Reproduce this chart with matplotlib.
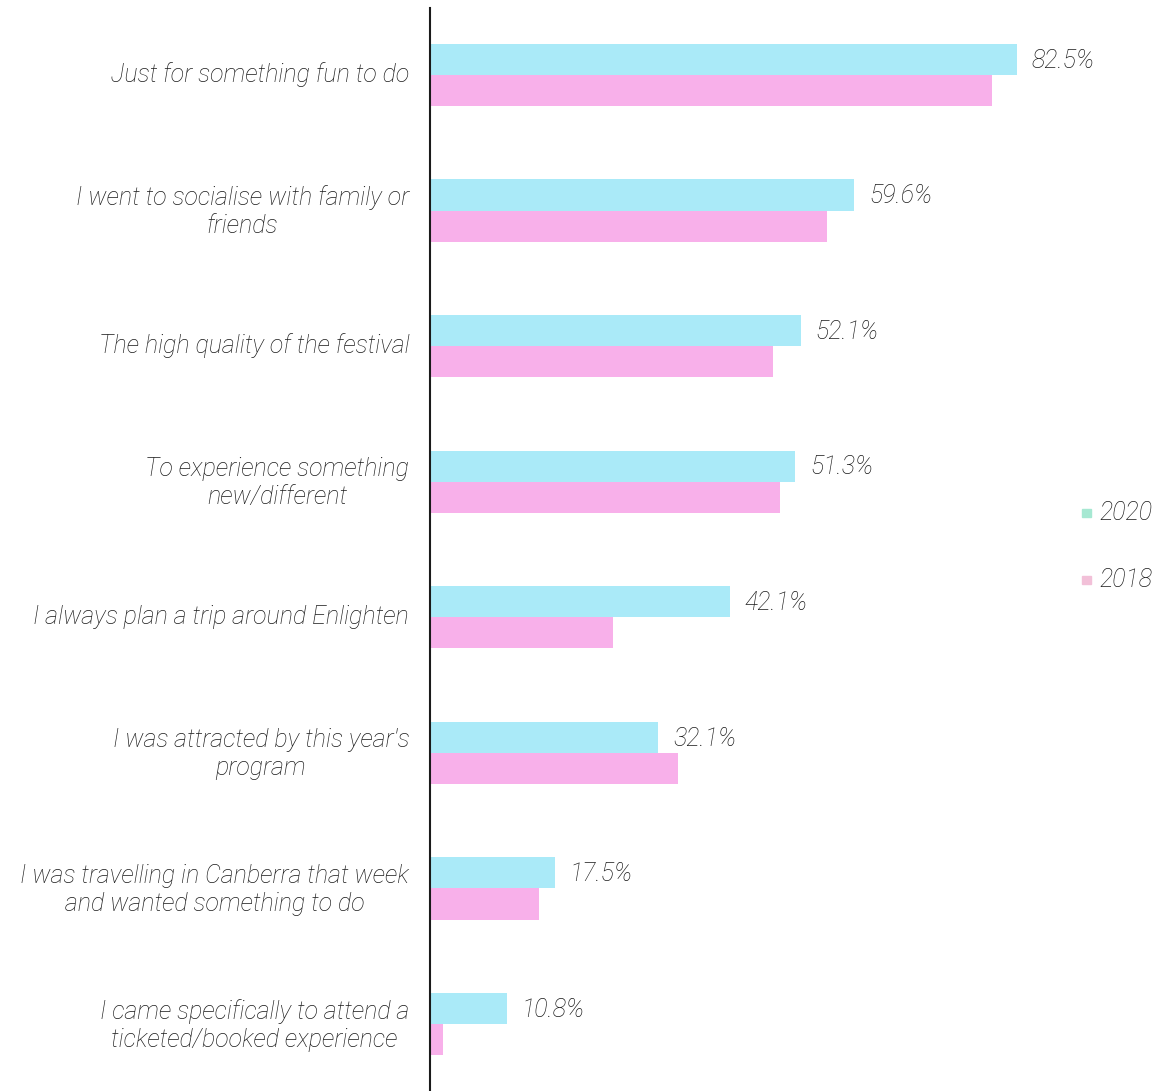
import matplotlib.pyplot as plt
import matplotlib.transforms as mtransforms
import numpy as np

categories = [
    "Just for something fun to do",
    "I went to socialise with family or\nfriends",
    "The high quality of the festival",
    "To experience something\nnew/different",
    "I always plan a trip around Enlighten",
    "I was attracted by this year's\nprogram",
    "I was travelling in Canberra that week\nand wanted something to do",
    "I came specifically to attend a\nticketed/booked experience",
]
values_2020 = [82.5, 59.6, 52.1, 51.3, 42.1, 32.1, 17.5, 10.8]
values_2018 = [79.0, 55.8, 48.2, 49.2, 25.7, 34.9, 15.3, 1.8]
series_names = ["2020", "2018"]

color_2020 = "#aaeaf8"
color_2018 = "#f8b0ea"
legend_2020 = "#a6e8d2"
legend_2018 = "#f2c0d8"
text_color = "#1a1a1a"
fs = 18

plt.rcParams['font.family'] = ['Roboto', 'DejaVu Sans']

fig = plt.figure(figsize=(11.56, 10.91), dpi=100)
W, H = 1156, 1091
ax = fig.add_axes([430 / W, 0 / H, (1100 - 430) / W, (1091 - 8) / H])

n = len(categories)
y = np.arange(n)
bar_h = 0.23

ax.barh(y - bar_h / 2, values_2020, height=bar_h, color=color_2020, label=series_names[0])
ax.barh(y + bar_h / 2, values_2018, height=bar_h, color=color_2018, label=series_names[1])

ax.set_xlim(0, (1100 - 430) / 7.115)
ax.set_ylim(n - 1 + 0.494, -0.494)

for yi, v in zip(y, values_2020):
    ax.text(v + 2.1, yi - bar_h / 2 + 0.01, f"{v}%", ha='left', va='center',
            fontsize=fs, style='italic', fontweight='light', color=text_color)

ax.set_yticks(y)
ax.set_yticklabels(categories, fontsize=fs, style='italic', fontweight='light',
                   color=text_color, ha='right', multialignment='center')
ax.tick_params(axis='y', length=0, pad=15)
ax.set_xticks([])

# nudge category labels up slightly
lift = mtransforms.ScaledTranslation(0, 3 / 100, fig.dpi_scale_trans)
for lbl in ax.get_yticklabels():
    lbl.set_transform(lbl.get_transform() + lift)

for s in ['top', 'right', 'bottom']:
    ax.spines[s].set_visible(False)
ax.spines['left'].set_color('#1a1a1a')
ax.spines['left'].set_linewidth(1.5)

# legend on the right
for name, c, yy in [(series_names[0], legend_2020, 513), (series_names[1], legend_2018, 580)]:
    fig.patches.append(plt.Rectangle((1082 / W, 1 - (yy + 4) / H), 9 / W, 8 / H,
                                     transform=fig.transFigure, color=c, figure=fig))
    fig.text(1099 / W, 1 - yy / H, name, ha='left', va='center', fontsize=fs,
             style='italic', fontweight='light', color=text_color)

fig.savefig("out.png", dpi=100, facecolor='white')
